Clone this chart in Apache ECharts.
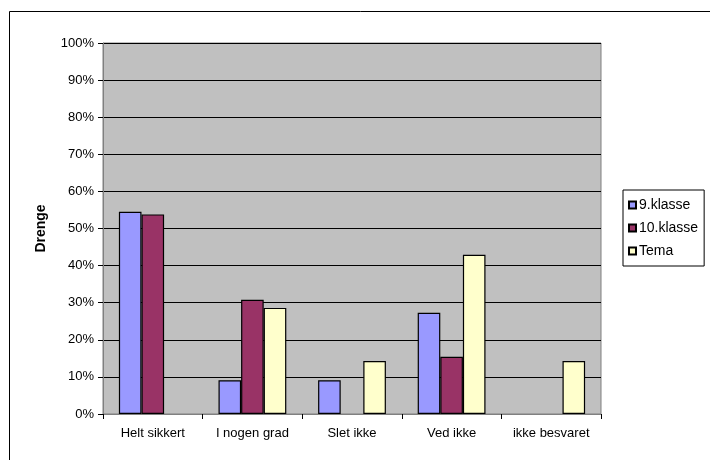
<!DOCTYPE html>
<html>
<head>
<meta charset="utf-8">
<script src="https://cdn.jsdelivr.net/npm/echarts@6/dist/echarts.min.js"></script>
<style>
html,body{margin:0;padding:0;background:#fff;}
#c{width:710px;height:460px;}
</style>
</head>
<body>
<div id="c"></div>
<script>
var categories = ['Helt sikkert', 'I nogen grad', 'Slet ikke', 'Ved ikke', 'ikke besvaret'];
var klasse9 = [54.5, 9.1, 9.1, 27.3, null];
var klasse10 = [53.8, 30.8, null, 15.4, null];
var tema = [null, 28.6, 14.3, 42.9, 14.3];
var yTicks = [0, 10, 20, 30, 40, 50, 60, 70, 80, 90, 100];

var chart = echarts.init(document.getElementById('c'), null, {renderer: 'canvas'});
var font = 'Liberation Sans, Arial, sans-serif';
function bar(name, data, color) {
  return {
    name: name, type: 'bar', data: data,
    barWidth: 22.6, barGap: '0%',
    itemStyle: {color: color, borderColor: '#000', borderWidth: 1.2},
    emphasis: {disabled: true}
  };
}
chart.setOption({
  animation: false,
  textStyle: {fontFamily: font},
  graphic: [{
    type: 'rect', shape: {x: 9.5, y: 11.5, width: 720, height: 470},
    style: {fill: 'none', stroke: '#000', lineWidth: 1}, silent: true
  }],
  grid: {
    left: 103, top: 43, width: 498, height: 371,
    show: true, backgroundColor: '#C0C0C0', borderColor: '#808080', borderWidth: 1
  },
  legend: {
    orient: 'vertical', left: 623, top: 190,
    padding: [8, 6, 8, 5],
    itemGap: 9, itemWidth: 7, itemHeight: 7, icon: 'rect',
    backgroundColor: '#fff', borderColor: '#000', borderWidth: 1,
    textStyle: {fontFamily: font, fontSize: 14, color: '#000', padding: [0, 0, 0, -2]},
    data: ['9.klasse', '10.klasse', 'Tema']
  },
  xAxis: {
    type: 'category', data: categories,
    axisLine: {show: true, lineStyle: {color: '#808080', width: 1}},
    axisTick: {show: true, alignWithLabel: false, length: 5, lineStyle: {color: '#000'}},
    axisLabel: {color: '#000', fontSize: 13, fontFamily: font, margin: 13}
  },
  yAxis: {
    type: 'value', min: 0, max: 100, interval: 10,
    name: 'Drenge', nameLocation: 'middle', nameGap: 55,
    nameTextStyle: {fontWeight: 'bold', fontSize: 14, fontFamily: font, color: '#000'},
    axisLine: {show: true, lineStyle: {color: '#808080', width: 1}},
    axisTick: {show: true, length: 5, lineStyle: {color: '#000'}},
    axisLabel: {color: '#000', fontSize: 13, fontFamily: font, margin: 9,
      formatter: function(v){ return v + '%'; }},
    splitLine: {show: true, lineStyle: {color: '#000', width: 1}}
  },
  series: [
    bar('9.klasse', klasse9, '#9999FF'),
    bar('10.klasse', klasse10, '#993366'),
    bar('Tema', tema, '#FFFFCC')
  ]
});
</script>
</body>
</html>
